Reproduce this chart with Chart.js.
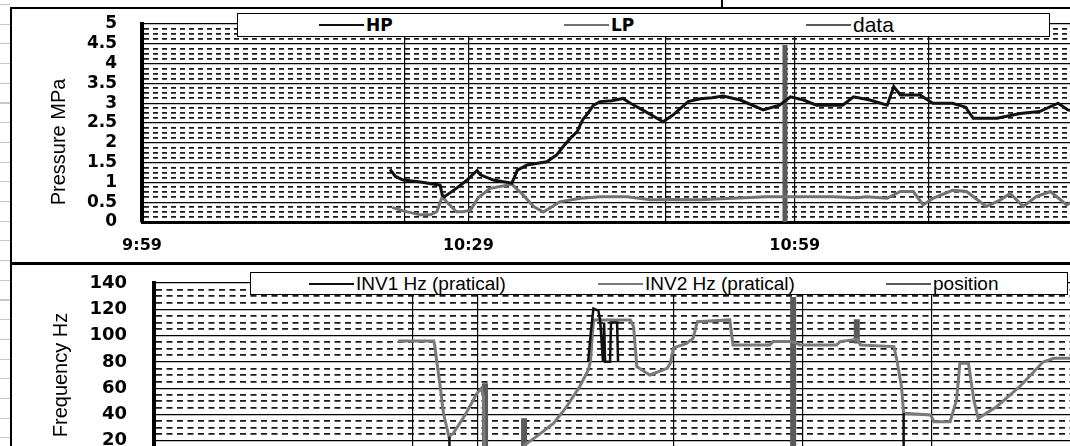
<!DOCTYPE html>
<html>
<head>
<meta charset="utf-8">
<script src="https://cdn.jsdelivr.net/npm/chart.js@4.4.1/dist/chart.umd.min.js"></script>
<style>
  html, body { margin: 0; padding: 0; background: #fff; }
  body { width: 1070px; height: 446px; overflow: hidden; position: relative; font-family: "Liberation Sans", Arial, sans-serif; }
  .sheet { position: absolute; left: 0; top: 0; width: 10px; height: 446px;
    background-image: repeating-linear-gradient(180deg, #c6c6c6 0 1px, transparent 1px 19.7px);
    background-position: 0 4px; }
  .cell { position: absolute; left: 721px; top: 0; width: 2px; height: 7px; background: #000; }
  .frame { position: absolute; left: 10px; border-left: 2px solid #000; }
  #frameTop { top: 7px; width: 1070px; height: 253px; border-top: 2px solid #000; border-bottom: 3px solid #000; }
  #frameBottom { top: 265px; width: 1070px; height: 200px; }
  .chart-box { position: absolute; left: 12px; width: 1058px; }
  #pressureBox { top: 9px; height: 252px; }
  #freqBox { top: 266px; height: 240px; }
  .legend { position: absolute; background: #fff; border: 1.5px solid #000; box-sizing: border-box; }
  #pressureLegend { left: 237px; top: 13px; width: 813px; height: 24px; }
  #freqLegend { left: 250px; top: 272px; width: 818px; height: 23px; }
  .legend .item { position: absolute; top: 0; height: 100%; display: flex; align-items: center; white-space: nowrap; line-height: 1; color: #000; }
  .legend .swatch { display: inline-block; width: 45px; height: 2px; margin-right: 2px; }
</style>
</head>
<body>
<div class="sheet"></div>
<div class="cell"></div>
<div class="frame" id="frameTop"></div>
<div class="frame" id="frameBottom"></div>
<div class="chart-box" id="pressureBox"><canvas id="pressureChart"></canvas></div>
<div class="chart-box" id="freqBox"><canvas id="freqChart"></canvas></div>
<div class="legend" id="pressureLegend"></div>
<div class="legend" id="freqLegend"></div>

<script>
// time axis is minutes after 9:59
const timeTickValues = [0, 30, 60];
const timeTickLabels = ['9:59', '10:29', '10:59'];
const pressureMarkers = [24.1, 48.1, 72.3];
const freqMarkers = [23.9, 48.1, 72.0];

const pressureLabels = ['0', '0.5', '1', '1.5', '2', '2.5', '3', '3.5', '4', '4.5', '5'];
const freqLabels = ['0', '20', '40', '60', '80', '100', '120', '140'];

const pressureSeries = ['HP', 'LP', 'data'];
const freqSeries = ['INV1 Hz (pratical)', 'INV2 Hz (pratical)', 'position'];

const hpTime = [22.8, 23.3, 24.0, 25.6, 27.4, 27.6, 27.8, 28.8, 29.8, 30.8, 31.1, 32.3, 34.0, 34.5, 35.4, 37.2, 38.1, 38.7, 39.5, 40.0, 40.5, 41.0, 41.5, 42.1, 43.2, 44.2, 44.9, 46.2, 47.9, 48.8, 50.2, 51.3, 52.4, 53.4, 55.0, 57.1, 58.6, 59.6, 60.8, 62.0, 64.4, 65.4, 66.9, 68.5, 69.1, 69.7, 71.5, 72.7, 74.5, 75.7, 76.4, 78.6, 80.7, 82.5, 84.2, 85.1, 85.8];
const hpValue = [1.33, 1.15, 1.06, 1.01, 0.93, 0.68, 0.64, 0.83, 1.04, 1.30, 1.19, 1.06, 0.98, 1.31, 1.44, 1.52, 1.69, 1.90, 2.15, 2.28, 2.58, 2.75, 2.95, 3.04, 3.06, 3.12, 3.00, 2.80, 2.53, 2.70, 3.04, 3.11, 3.14, 3.18, 3.08, 2.83, 2.95, 3.16, 3.08, 2.95, 2.95, 3.16, 3.08, 2.95, 3.42, 3.21, 3.21, 3.00, 3.00, 2.90, 2.62, 2.62, 2.74, 2.79, 3.00, 2.83, 2.80];

const lpTime = [23.0, 24.0, 25.6, 26.5, 27.1, 27.6, 28.0, 28.9, 29.5, 30.2, 30.9, 32.0, 34.0, 34.9, 36.0, 36.9, 38.4, 40.3, 42.1, 44.6, 46.7, 48.8, 51.3, 54.3, 57.4, 60.5, 63.5, 65.7, 66.6, 68.5, 69.7, 70.9, 71.8, 72.7, 74.5, 75.8, 77.6, 78.9, 79.8, 81.0, 82.2, 83.5, 85.0, 85.8];
const lpValue = [0.37, 0.28, 0.18, 0.18, 0.26, 0.64, 0.51, 0.26, 0.26, 0.30, 0.61, 0.85, 0.95, 0.72, 0.39, 0.25, 0.51, 0.60, 0.64, 0.64, 0.56, 0.57, 0.56, 0.60, 0.64, 0.64, 0.64, 0.61, 0.64, 0.60, 0.77, 0.77, 0.43, 0.60, 0.80, 0.77, 0.39, 0.56, 0.72, 0.39, 0.64, 0.77, 0.43, 0.56];

const dataTime = [59.1, 59.1];
const dataValue = [0, 4.47];

const inv1Time = [27.35, 27.35, 27.4, 40.19, 40.46, 40.68, 41.14, 41.30, 41.57, 41.67, 41.76, 42.22, 42.31, 42.87, 42.96, 43.0, 69.4, 69.4];
const inv1Value = [23.1, 0, null, 80, 104, 120.6, 119, 111.7, 80, 110, 80, 80, 110, 110, 80, null, 40.9, 0];

const inv2Time = [22.6, 25.9, 26.0, 26.2, 26.5, 26.8, 27.3, 27.7, 28.8, 29.9, 30.3, 30.5, 30.6, 34.0, 34.3, 35.4, 37.0, 38.2, 39.4, 40.2, 40.4, 40.6, 40.7, 44.1, 44.4, 44.7, 45.9, 47.5, 47.8, 48.1, 49.3, 49.9, 50.3, 53.3, 53.6, 57.0, 57.3, 59.1, 59.8, 63.2, 63.5, 65.1, 65.4, 68.5, 68.8, 69.2, 69.4, 71.9, 72.2, 73.7, 74.3, 74.6, 75.4, 75.9, 76.3, 78.0, 80.2, 82.3, 83.3, 85.3];
const inv2Value = [95.9, 95.9, 92.1, 78.9, 61.1, 40.9, 23.1, 25.6, 39.6, 56.1, 59.9, 53.5, 0, 0, 16.7, 23.1, 33.3, 45.9, 61.1, 73.8, 80.1, 103.0, 111.9, 111.9, 106.8, 76.3, 70.0, 75.1, 78.9, 90.6, 94.1, 97.9, 110.6, 111.9, 92.8, 92.8, 95.4, 95.4, 92.8, 92.8, 95.4, 97.2, 92.8, 91.6, 80.1, 61.1, 40.9, 39.6, 34.5, 34.5, 51.0, 78.9, 78.9, 51.0, 37.1, 45.9, 61.6, 79.9, 82.7, 82.7];

const posTime = [30.65, 30.65, 30.7, 34.26, 34.26, 34.3, 59.17, 59.17, 59.2, 65.06, 65.06];
const posValue = [0, 63.8, null, 0, 37.1, null, 0, 129.4, null, 94, 112.5];

Chart.defaults.font.family = '"Liberation Sans", Arial, sans-serif';
Chart.defaults.color = '#000';

function toPoints(times, values) {
    return times.map((t, i) => ({ x: t, y: values[i] }));
}

function lineSet(label, times, values, color, width) {
    return {
        label: label,
        data: toPoints(times, values),
        borderColor: color,
        backgroundColor: color,
        borderWidth: width,
        pointRadius: 0,
        tension: 0,
        spanGaps: false,
        fill: false
    };
}

function buildOptions(cfg) {
    const isMajor = ctx => ctx.index === undefined || ctx.index % cfg.perMajor === 0;
    const xTicks = timeTickValues.concat(cfg.markers).sort((a, b) => a - b);
    const yCount = (cfg.yLabels.length - 1) * cfg.perMajor;

    return {
        responsive: true,
        maintainAspectRatio: false,
        animation: false,
        devicePixelRatio: 1,
        layout: { padding: { top: cfg.padTop, left: 0, right: 0, bottom: 0 } },
        plugins: { legend: { display: false }, tooltip: { enabled: false } },
        scales: {
            x: {
                type: 'linear',
                min: 0,
                max: cfg.xMax,
                afterFit: s => {
                    s.height = 39;
                    s.paddingLeft = 0;
                    s.paddingRight = 0;
                },
                afterBuildTicks: s => { s.ticks = xTicks.map(v => ({ value: v })); },
                grid: { color: '#000', lineWidth: 1.2, drawTicks: false },
                border: { color: '#000', width: 3 },
                ticks: {
                    autoSkip: false,
                    maxRotation: 0,
                    padding: 14,
                    font: { family: '"DejaVu Sans"', weight: 'bold', size: 16 },
                    callback: value => {
                        const i = timeTickValues.indexOf(value);
                        return i >= 0 ? timeTickLabels[i] : '';
                    }
                }
            },
            y: {
                type: 'linear',
                min: 0,
                max: cfg.yMax,
                afterFit: s => {
                    // keep tick padding from pushing the plot area down
                    s.width = cfg.yWidth;
                    s.paddingTop = 0;
                    s.paddingBottom = 0;
                },
                afterBuildTicks: s => {
                    s.ticks = Array.from({ length: yCount + 1 }, (_, i) => ({ value: i * cfg.yMax / yCount }));
                },
                grid: {
                    drawTicks: false,
                    color: ctx => isMajor(ctx) ? '#000' : '#1a1a1a',
                    lineWidth: ctx => isMajor(ctx) ? 1.2 : 1.8
                },
                border: {
                    color: '#000',
                    width: 4,
                    dash: ctx => isMajor(ctx) ? [] : cfg.dash
                },
                ticks: {
                    autoSkip: false,
                    padding: cfg.tickPad,
                    font: { family: '"DejaVu Sans"', weight: 'bold', size: cfg.tickSize },
                    callback: (value, index) => index % cfg.perMajor === 0 ? cfg.yLabels[index / cfg.perMajor] : ''
                },
                title: {
                    display: true,
                    text: cfg.yTitle,
                    align: cfg.titleAlign,
                    font: { size: 20 },
                    padding: { top: cfg.titlePad, bottom: 0 }
                }
            }
        }
    };
}

function buildLegend(id, labels, colors, lefts, fonts) {
    const box = document.getElementById(id);
    labels.forEach((label, i) => {
        const item = document.createElement('div');
        item.className = 'item';
        item.style.left = lefts[i] + 'px';
        const swatch = document.createElement('span');
        swatch.className = 'swatch';
        swatch.style.background = colors[i];
        const text = document.createElement('span');
        text.style.font = fonts[i];
        text.textContent = label;
        item.appendChild(swatch);
        item.appendChild(text);
        box.appendChild(item);
    });
}

const pressureColors = ['#111', '#727272', '#5a5a5a'];
const freqColors = ['#111', '#7a7a7a', '#5a5a5a'];

new Chart(document.getElementById('pressureChart'), {
    type: 'line',
    data: {
        datasets: [
            lineSet(pressureSeries[0], hpTime, hpValue, pressureColors[0], 3),
            lineSet(pressureSeries[1], lpTime, lpValue, pressureColors[1], 3),
            lineSet(pressureSeries[2], dataTime, dataValue, pressureColors[2], 5)
        ]
    },
    options: buildOptions({
        xMax: 85.3, markers: pressureMarkers,
        yMax: 5, perMajor: 4, yLabels: pressureLabels,
        yWidth: 130, padTop: 15, tickPad: 25, tickSize: 17,
        dash: [5, 4],
        yTitle: '   Pressure MPa', titleAlign: 'start', titlePad: 35
    })
});

new Chart(document.getElementById('freqChart'), {
    type: 'line',
    data: {
        datasets: [
            lineSet(freqSeries[0], inv1Time, inv1Value, freqColors[0], 2.5),
            lineSet(freqSeries[1], inv2Time, inv2Value, freqColors[1], 3),
            lineSet(freqSeries[2], posTime, posValue, freqColors[2], 6)
        ]
    },
    options: buildOptions({
        xMax: 84.8, markers: freqMarkers,
        yMax: 140, perMajor: 4, yLabels: freqLabels,
        yWidth: 142, padTop: 17, tickPad: 27, tickSize: 18,
        dash: [6, 4.5],
        yTitle: 'Frequency Hz', titleAlign: 'center', titlePad: 37
    })
});

buildLegend('pressureLegend', pressureSeries, pressureColors, [81, 326, 568],
    ['bold 17px "DejaVu Sans"', 'bold 17px "DejaVu Sans"', '21px "Liberation Sans"']);
buildLegend('freqLegend', freqSeries, freqColors, [58, 347, 635],
    ['19px "Liberation Sans"', '19px "Liberation Sans"', '19px "Liberation Sans"']);
</script>
</body>
</html>
